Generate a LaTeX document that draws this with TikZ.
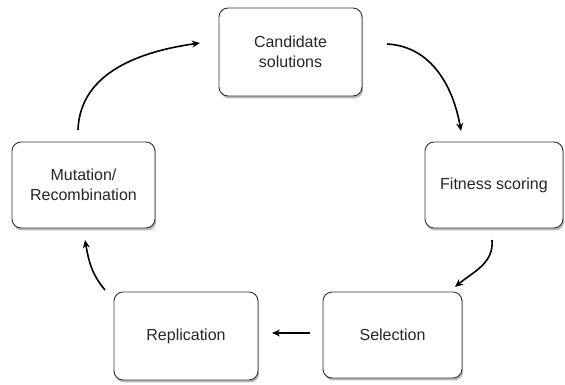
\documentclass[tikz,border=0pt]{standalone}
\usepackage{fontspec}
\setmainfont{Liberation Sans}
\usetikzlibrary{shadows,arrows.meta}
\begin{document}
\begin{tikzpicture}[x=1pt,y=1pt,
  box/.style={draw=black!80, line width=0.9pt, rounded corners=9pt, fill=white,
    align=center, font=\fontsize{16}{20}\selectfont, text=black!85, inner sep=0pt,
    drop shadow={opacity=0.55, shadow xshift=1.2pt, shadow yshift=-2.4pt}},
  arr/.style={line width=1.6pt, -{Stealth[length=8pt,width=7pt]}}]
\useasboundingbox (0,0) rectangle (565,384);
\node[box, minimum width=143pt, minimum height=88pt] (cand) at (290.5,332) {Candidate\\solutions};
\node[box, minimum width=138pt, minimum height=86pt] (fit) at (494,199) {Fitness scoring};
\node[box, minimum width=143pt, minimum height=86pt] (mut) at (83.5,199) {Mutation/\\Recombination};
\node[box, minimum width=144pt, minimum height=88pt] (rep) at (186,48) {Replication};
\node[box, minimum width=139pt, minimum height=86pt] (sel) at (392.5,49) {Selection};
\coordinate (a1s) at (387,340);
\coordinate (a1e) at (461,253);
\coordinate (a2s) at (492,144);
\coordinate (a2e) at (455,97);
\coordinate (a3s) at (310,51);
\coordinate (a3e) at (272,51);
\coordinate (a4s) at (105,94);
\coordinate (a4e) at (85,144);
\coordinate (a5s) at (78,254);
\coordinate (a5e) at (200,341);
\draw[arr] (a1s) to[out=-3,in=100] (a1e);
\draw[arr] (a2s) to[out=-85,in=40] (a2e);
\draw[arr] (a3s) -- (a3e);
\draw[arr] (a4s) to[out=130,in=-80] (a4e);
\draw[arr] (a5s) to[out=88,in=188] (a5e);
\end{tikzpicture}
\end{document}
